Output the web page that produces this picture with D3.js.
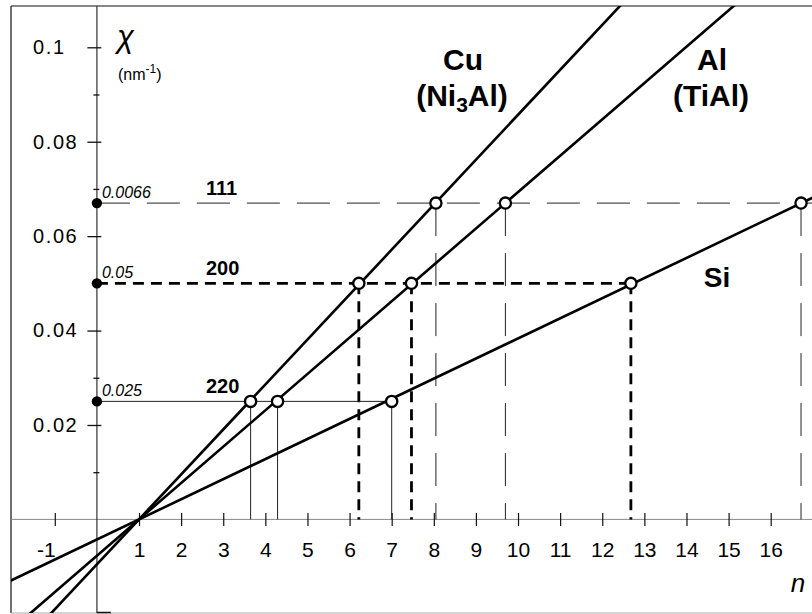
<!DOCTYPE html>
<html>
<head>
<meta charset="utf-8">
<script src="https://cdn.jsdelivr.net/npm/d3@7"></script>
<style>
  html, body { margin: 0; padding: 0; background: #fff; }
  svg { display: block; }
  text { font-family: "Liberation Sans", Arial, Helvetica, sans-serif; fill: #000; }
</style>
</head>
<body>
<svg id="chart" width="812" height="614"></svg>
<script>
// Reflections and the chi value of each (nm^-1)
const reflections = ["111", "200", "220"];
const chiLevels = [0.067, 0.05, 0.025];
const chiLabels = ["0.0066", "0.05", "0.025"];

// Order n at which each element's line reaches the reflection levels (111, 200, 220)
const cuN = [8.05, 6.22, 3.65];
const alN = [9.70, 7.47, 4.29];
const siN = [16.72, 12.68, 7.00];

// All lines meet the n axis here
const crossN = 1;

// Axis ticks
const xTicks = [-1, 1, 2, 3, 4, 5, 6, 7, 8, 9, 10, 11, 12, 13, 14, 15, 16];
const xTickLabels = ["-1", "1", "2", "3", "4", "5", "6", "7", "8", "9", "10", "11", "12", "13", "14", "15", "16"];
const yTicks = [0.02, 0.04, 0.06, 0.08, 0.1];
const yMinorTicks = [0.01, 0.03, 0.05, 0.07, 0.09];
const yTickLabels = ["0.02", "0.04", "0.06", "0.08", "0.1"];

const series = [
  { name: "Cu", n: cuN },
  { name: "Al", n: alN },
  { name: "Si", n: siN }
];

const svg = d3.select("#chart");
const x = d3.scaleLinear().domain([0, 16]).range([96.9, 770.7]);
const y = d3.scaleLinear().domain([0, 0.1]).range([519.4, 47.3]);

const frame = { left: 11, top: 6, right: 812, bottom: 613 };

svg.append("defs").append("clipPath").attr("id", "plotClip")
  .append("rect")
  .attr("x", frame.left).attr("y", frame.top)
  .attr("width", frame.right - frame.left).attr("height", frame.bottom - frame.top);

// Frame
svg.append("line").attr("x1", frame.left).attr("x2", frame.left)
  .attr("y1", frame.top).attr("y2", frame.bottom).attr("stroke", "#111").attr("stroke-width", 1.2);
svg.append("line").attr("x1", frame.left).attr("x2", frame.right)
  .attr("y1", frame.top).attr("y2", frame.top).attr("stroke", "#111").attr("stroke-width", 1.2);
svg.append("line").attr("x1", frame.left).attr("x2", frame.right)
  .attr("y1", frame.bottom).attr("y2", frame.bottom).attr("stroke", "#aaa").attr("stroke-width", 1);

// n axis line
svg.append("line").attr("x1", frame.left).attr("x2", frame.right)
  .attr("y1", y(0)).attr("y2", y(0)).attr("stroke", "#888").attr("stroke-width", 1);
// chi axis line
svg.append("line").attr("x1", x(0)).attr("x2", x(0))
  .attr("y1", frame.top).attr("y2", frame.bottom).attr("stroke", "#333").attr("stroke-width", 1.2);
svg.append("line").attr("x1", x(0)).attr("x2", x(0) + 14)
  .attr("y1", frame.bottom - 0.5).attr("y2", frame.bottom - 0.5).attr("stroke", "#111").attr("stroke-width", 1.5);

// n axis ticks and labels
const xAxis = svg.append("g")
  .attr("transform", `translate(0,${y(0) - 6.4})`)
  .call(d3.axisBottom(x).tickValues(xTicks).tickSize(13).tickPadding(16)
    .tickFormat((d, i) => xTickLabels[i]));
xAxis.select(".domain").remove();
xAxis.selectAll(".tick line").attr("stroke", "#111").attr("stroke-width", 1.2);
xAxis.selectAll(".tick text")
  .attr("font-size", 21).attr("font-family", null).attr("fill", "#000")
  .attr("dx", d => d < 0 ? -9 : 0);

// chi axis major ticks and labels
const yAxis = svg.append("g")
  .attr("transform", `translate(${x(0) + 4.5},0)`)
  .call(d3.axisLeft(y).tickValues(yTicks).tickSize(14).tickFormat((d, i) => yTickLabels[i]));
yAxis.select(".domain").remove();
yAxis.selectAll(".tick line").attr("stroke", "#111").attr("stroke-width", 1.3);
yAxis.selectAll(".tick text")
  .attr("font-size", 20).attr("font-family", null).attr("fill", "#000")
  .attr("text-anchor", "start").attr("x", 33 - (x(0) + 4.5))
  .attr("letter-spacing", 1.6);

// chi axis minor ticks
const yMinor = svg.append("g")
  .attr("transform", `translate(${x(0) + 2.5},0)`)
  .call(d3.axisLeft(y).tickValues(yMinorTicks).tickSize(6).tickFormat(""));
yMinor.select(".domain").remove();
yMinor.selectAll(".tick line").attr("stroke", "#111").attr("stroke-width", 1.3);

// Styles of the guide lines for each reflection
const guideStyle = {
  "111": { width: 1, dash: "33,17", color: "#222" },
  "200": { width: 2.8, dash: "11,7", color: "#000" },
  "220": { width: 1, dash: null, color: "#222" }
};

const guides = svg.append("g").attr("clip-path", "url(#plotClip)");

reflections.forEach((r, i) => {
  const st = guideStyle[r];
  const lvl = chiLevels[i];
  // horizontal guide: from the chi axis to the Si point (111 runs to the edge)
  const xEnd = r === "111" ? frame.right : x(siN[i]);
  guides.append("line")
    .attr("x1", x(0)).attr("x2", xEnd)
    .attr("y1", y(lvl)).attr("y2", y(lvl))
    .attr("stroke", st.color).attr("stroke-width", st.width)
    .attr("stroke-dasharray", st.dash);
  // vertical drops to the n axis
  series.forEach(s => {
    guides.append("line")
      .attr("x1", x(s.n[i])).attr("x2", x(s.n[i]))
      .attr("y1", y(lvl)).attr("y2", y(0))
      .attr("stroke", st.color).attr("stroke-width", st.width)
      .attr("stroke-dasharray", st.dash);
  });
});

// Straight lines chi = k (n - 1), slope from a least-squares fit through the crossing point
const lines = svg.append("g").attr("clip-path", "url(#plotClip)");
series.forEach(s => {
  let num = 0, den = 0;
  s.n.forEach((nv, i) => { const dn = nv - crossN; num += dn * chiLevels[i]; den += dn * dn; });
  const k = num / den;
  const n0 = x.invert(frame.left - 5), n1 = x.invert(frame.right + 5);
  lines.append("line")
    .attr("x1", x(n0)).attr("y1", y(k * (n0 - crossN)))
    .attr("x2", x(n1)).attr("y2", y(k * (n1 - crossN)))
    .attr("stroke", "#000").attr("stroke-width", 2.6);
});

// Filled dots on the chi axis
svg.append("g").selectAll("circle").data(chiLevels).join("circle")
  .attr("cx", x(0)).attr("cy", d => y(d)).attr("r", 5.2).attr("fill", "#000");

// Open markers at the intersections
const pts = [];
series.forEach(s => s.n.forEach((nv, i) => pts.push({ n: nv, chi: chiLevels[i] })));
svg.append("g").selectAll("circle").data(pts).join("circle")
  .attr("cx", d => x(d.n)).attr("cy", d => y(d.chi)).attr("r", 5.6)
  .attr("fill", "#fff").attr("stroke", "#000").attr("stroke-width", 2.3);

// Level values (italic) next to the axis
svg.append("g").selectAll("text").data(chiLevels).join("text")
  .attr("x", x(0) + 5).attr("y", d => y(d) - 5)
  .attr("font-size", 16).attr("font-style", "italic")
  .text((d, i) => chiLabels[i]);

// Reflection indices
svg.append("g").selectAll("text").data(chiLevels).join("text")
  .attr("x", 206).attr("y", d => y(d) - 8)
  .attr("font-size", 20).attr("font-weight", "bold")
  .text((d, i) => reflections[i]);

// Element labels
function label(txt, cx, by, size) {
  return svg.append("text").attr("x", cx).attr("y", by)
    .attr("font-weight", "bold").attr("font-size", size || 30)
    .attr("text-anchor", "middle").text(txt);
}
label("Cu", 463, 70);
const ni = svg.append("text").attr("x", 462).attr("y", 106)
  .attr("font-weight", "bold").attr("font-size", 30).attr("text-anchor", "middle");
ni.append("tspan").text("(Ni");
ni.append("tspan").attr("font-size", 21).attr("dy", 6).text("3");
ni.append("tspan").attr("dy", -6).text("Al)");
label("Al", 712, 70);
label("(TiAl)", 711, 106);
label("Si", 717, 287, 28);

// Axis titles
svg.append("text").attr("x", 117).attr("y", 47)
  .attr("font-family", "'Liberation Serif', 'DejaVu Serif', serif")
  .attr("font-style", "italic").attr("font-size", 31).text("χ");
const unit = svg.append("text").attr("x", 118).attr("y", 80).attr("font-size", 16);
unit.append("tspan").text("(nm");
unit.append("tspan").attr("font-size", 12).attr("dy", -7).text("-1");
unit.append("tspan").attr("dy", 7).text(")");

svg.append("text").attr("x", 798).attr("y", 592)
  .attr("font-style", "italic").attr("font-size", 26).attr("text-anchor", "middle").text("n");
</script>
</body>
</html>
